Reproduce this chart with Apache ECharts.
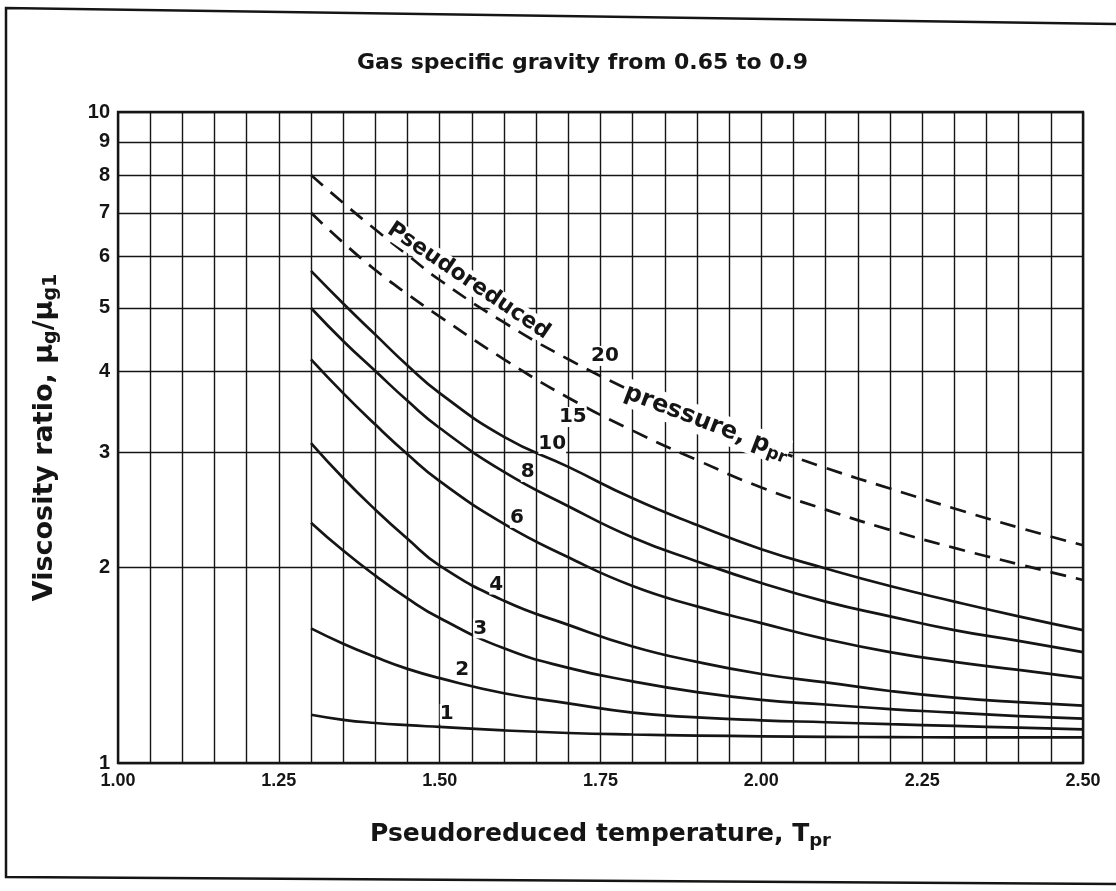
<!DOCTYPE html>
<html>
<head>
    <meta charset="utf-8">
    <title>Viscosity ratio vs pseudoreduced temperature</title>
    <script src="https://cdn.jsdelivr.net/npm/echarts@6/dist/echarts.min.js"></script>
    <style>
        html, body { margin: 0; padding: 0; background: #fff; }
        #main { width: 1116px; height: 891px; }
    </style>
</head>
<body>
    <div id="main"></div>
    <script>
        // pseudoreduced temperature where the curves were read
        const tpr = [1.30, 1.35, 1.40, 1.45, 1.50, 1.60, 1.70, 1.80, 1.90, 2.00, 2.10, 2.20, 2.30, 2.40, 2.50];

        // viscosity ratio for each pseudoreduced pressure
        const ppr20 = [8.0, 7.25, 6.6, 6.03, 5.52, 4.75, 4.17, 3.72, 3.35, 3.08, 2.84, 2.64, 2.46, 2.30, 2.16];
        const ppr15 = [7.0, 6.3, 5.72, 5.25, 4.85, 4.17, 3.64, 3.24, 2.92, 2.65, 2.45, 2.28, 2.14, 2.02, 1.91];
        const ppr10 = [5.7, 5.08, 4.55, 4.08, 3.70, 3.17, 2.85, 2.55, 2.32, 2.13, 1.99, 1.87, 1.77, 1.68, 1.60];
        const ppr8 = [5.0, 4.45, 4.0, 3.6, 3.27, 2.8, 2.48, 2.22, 2.04, 1.89, 1.77, 1.68, 1.60, 1.54, 1.48];
        const ppr6 = [4.17, 3.70, 3.31, 2.98, 2.71, 2.33, 2.07, 1.87, 1.74, 1.64, 1.55, 1.48, 1.43, 1.39, 1.35];
        const ppr4 = [3.1, 2.74, 2.45, 2.21, 2.01, 1.775, 1.63, 1.51, 1.43, 1.37, 1.33, 1.29, 1.26, 1.24, 1.225];
        const ppr3 = [2.34, 2.12, 1.94, 1.79, 1.67, 1.50, 1.40, 1.335, 1.285, 1.25, 1.23, 1.21, 1.195, 1.18, 1.17];
        const ppr2 = [1.61, 1.525, 1.455, 1.395, 1.35, 1.28, 1.235, 1.195, 1.175, 1.163, 1.155, 1.147, 1.14, 1.133, 1.126];
        const ppr1 = [1.186, 1.165, 1.152, 1.143, 1.136, 1.122, 1.112, 1.106, 1.102, 1.099, 1.097, 1.096, 1.095, 1.095, 1.095];

        const curves = [
            { name: '20', values: ppr20, dashed: true },
            { name: '15', values: ppr15, dashed: true },
            { name: '10', values: ppr10 },
            { name: '8', values: ppr8 },
            { name: '6', values: ppr6 },
            { name: '4', values: ppr4 },
            { name: '3', values: ppr3 },
            { name: '2', values: ppr2 },
            { name: '1', values: ppr1 }
        ];

        const yTicks = [1, 2, 3, 4, 5, 6, 7, 8, 9, 10];
        const xLabels = [1.00, 1.25, 1.50, 1.75, 2.00, 2.25, 2.50];

        // curve labels: [Tpr, ratio, text, rotation, font size]
        const notes = [
            [1.511, 1.19, '1', 0, 20],
            [1.535, 1.39, '2', 0, 20],
            [1.563, 1.61, '3', 0, 20],
            [1.588, 1.88, '4', 0, 20],
            [1.620, 2.38, '6', 0, 20],
            [1.637, 2.80, '8', 0, 20],
            [1.675, 3.09, '10', 0, 20],
            [1.707, 3.40, '15', 0, 20],
            [1.757, 4.22, '20', 0, 20],
            [1.545, 5.50, 'Pseudoreduced', -34, 22],
            [1.915, 3.33, '{t|pressure, p}{s|pr}', -21, 24]
        ];

        const font = 'DejaVu Sans, sans-serif';
        const tickFont = 'Liberation Sans, Arial, sans-serif';
        const ink = '#151515';
        const lg = Math.log10;

        const chart = echarts.init(document.getElementById('main'));

        const series = curves.map(c => ({
            name: c.name,
            type: 'line',
            showSymbol: false,
            smooth: 0.5,
            silent: true,
            lineStyle: {
                color: ink,
                width: 2.7,
                type: c.dashed ? [16, 10] : 'solid'
            },
            data: tpr.map((t, i) => [t, lg(c.values[i])])
        }));

        series.push({
            type: 'scatter',
            symbolSize: 0,
            silent: true,
            z: 5,
            itemStyle: { opacity: 1 },
            label: {
                show: true,
                position: 'inside',
                color: ink,
                opacity: 1,
                textBorderWidth: 0,
                fontFamily: font,
                fontWeight: 'bold',
                backgroundColor: '#fff',
                formatter: p => p.data.text,
                rich: {
                    t: { fontFamily: font, fontWeight: 'bold', fontSize: 24, color: ink, backgroundColor: '#fff' },
                    s: { fontFamily: font, fontWeight: 'bold', fontSize: 17, color: ink, backgroundColor: '#fff', padding: [11, 0, 0, 0] }
                }
            },
            data: notes.map(n => ({
                value: [n[0], lg(n[1])],
                text: n[2],
                label: { rotate: n[3], fontSize: n[4] }
            }))
        });

        chart.setOption({
            animation: false,
            backgroundColor: '#fff',
            title: {
                text: 'Gas specific gravity from 0.65 to 0.9',
                left: 352,
                top: 47,
                textStyle: { fontFamily: font, fontWeight: 'bold', fontSize: 22, color: ink }
            },
            grid: { left: 118, right: 33, top: 112, bottom: 128 },
            xAxis: {
                type: 'value',
                min: 1.0,
                max: 2.5,
                interval: 0.05,
                axisLine: { show: true, lineStyle: { color: ink, width: 2 } },
                axisTick: { show: false },
                axisLabel: {
                    customValues: xLabels,
                    formatter: v => v.toFixed(2),
                    margin: 9,
                    color: ink,
                    fontFamily: tickFont,
                    fontWeight: 'bold',
                    fontSize: 18
                },
                splitLine: { show: true, lineStyle: { color: ink, width: 1.4 } },
                name: '{t|Pseudoreduced temperature, T}{s|pr}',
                nameLocation: 'middle',
                nameGap: 56,
                nameTextStyle: {
                    rich: {
                        t: { fontFamily: font, fontWeight: 'bold', fontSize: 25, color: ink },
                        s: { fontFamily: font, fontWeight: 'bold', fontSize: 18, color: ink, padding: [13, 0, 0, 0] }
                    }
                }
            },
            yAxis: {
                type: 'value',
                min: 0,
                max: 1,
                axisLine: { show: true, lineStyle: { color: ink, width: 2 } },
                axisTick: { show: false, customValues: yTicks.map(lg) },
                axisLabel: {
                    customValues: yTicks.map(lg),
                    formatter: v => String(Math.round(Math.pow(10, v))),
                    margin: 8,
                    color: ink,
                    fontFamily: tickFont,
                    fontWeight: 'bold',
                    fontSize: 20
                },
                splitLine: { show: true, lineStyle: { color: ink, width: 1.4 } },
                name: '{t|Viscosity ratio, μ}{s|g}{t|/μ}{s|g1}',
                nameLocation: 'middle',
                nameGap: 57,
                nameTextStyle: {
                    rich: {
                        t: { fontFamily: font, fontWeight: 'bold', fontSize: 27, color: ink },
                        s: { fontFamily: font, fontWeight: 'bold', fontSize: 19, color: ink, padding: [13, 0, 0, 0] }
                    }
                }
            },
            graphic: [
                {
                    type: 'rect',
                    silent: true,
                    shape: { x: 118, y: 112, width: 965, height: 651 },
                    style: { fill: 'none', stroke: ink, lineWidth: 2.4 }
                },
                {
                    type: 'polyline',
                    silent: true,
                    shape: { points: [[1116, 24], [6, 8], [6, 877], [1116, 884]] },
                    style: { fill: 'none', stroke: ink, lineWidth: 2.5 }
                }
            ],
            series: series
        });
    </script>
</body>
</html>
